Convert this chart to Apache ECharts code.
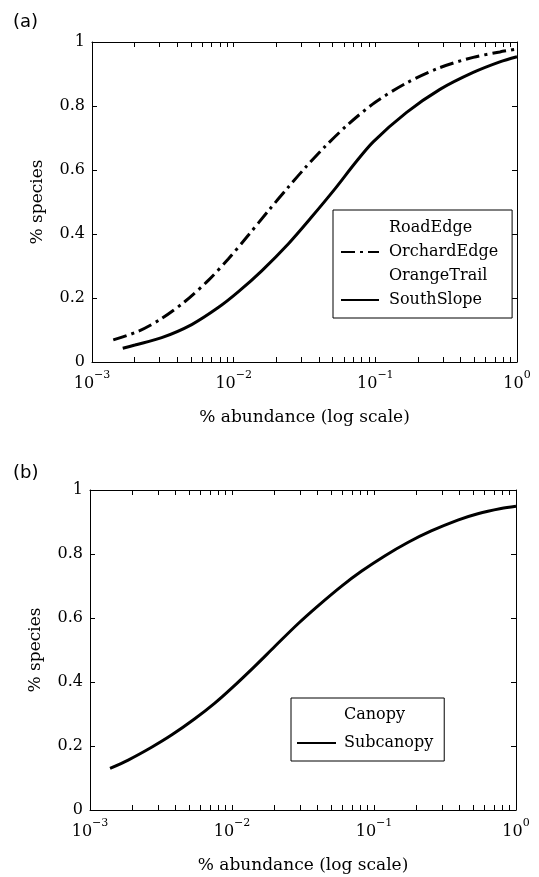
<!DOCTYPE html>
<html><head><meta charset="utf-8">
<script src="https://cdn.jsdelivr.net/npm/echarts@6/dist/echarts.min.js"></script>
<style>html,body{margin:0;padding:0;background:#fff}#c{width:539px;height:877px}</style>
</head><body><div id="c"></div>
<script>
// ---- data ----
// Panel (a)
const southSlopeX = [0.001648, 0.002009, 0.003105, 0.005058, 0.007780, 0.01076, 0.01578, 0.02427, 0.03548, 0.05188, 0.07178, 0.09661, 0.1663, 0.2858, 0.4909, 0.7568, 1.0];
const southSlopeY = [0.043, 0.053, 0.076, 0.117, 0.170, 0.219, 0.285, 0.369, 0.453, 0.541, 0.621, 0.688, 0.780, 0.852, 0.905, 0.938, 0.954];
const orchardEdgeX = [0.001413, 0.002123, 0.003105, 0.004529, 0.006622, 0.009162, 0.01268, 0.01754, 0.02427, 0.03184, 0.04406, 0.06442, 0.09931, 0.1663, 0.2858, 0.4909, 0.7568, 1.0];
const orchardEdgeY = [0.069, 0.096, 0.136, 0.189, 0.255, 0.322, 0.396, 0.472, 0.546, 0.606, 0.673, 0.743, 0.811, 0.872, 0.920, 0.952, 0.969, 0.978];
const roadEdgeX = [];
const roadEdgeY = [];
const orangeTrailX = [];
const orangeTrailY = [];
// Panel (b)
const subcanopyX = [0.001384, 0.001858, 0.002716, 0.003750, 0.005470, 0.007568, 0.009908, 0.01445, 0.02000, 0.02917, 0.04036, 0.05888, 0.08147, 0.1189, 0.1730, 0.2529, 0.3890, 0.5383, 0.7852, 1.0];
const subcanopyY = [0.130, 0.156, 0.196, 0.234, 0.285, 0.334, 0.380, 0.449, 0.511, 0.582, 0.638, 0.699, 0.746, 0.794, 0.836, 0.872, 0.906, 0.926, 0.942, 0.949];
const canopyX = [];
const canopyY = [];
// tick marks on the log axis (decades plus 2..9 multiples)
const xTickValues = [0.001,0.002,0.003,0.004,0.005,0.006,0.007,0.008,0.009,
  0.01,0.02,0.03,0.04,0.05,0.06,0.07,0.08,0.09,
  0.1,0.2,0.3,0.4,0.5,0.6,0.7,0.8,0.9,1];
const xMin = 0.001, xMax = 1;
const yMin = 0, yMax = 1, yStep = 0.2;
const xTitle = '% abundance (log scale)';
const yTitle = '% species';

// ---- styling/helpers ----
const SERIF = 'DejaVu Serif';
const zip = (xs, ys) => xs.map((x, i) => [x, ys[i]]);
const supLabel = v => {
  const e = Math.round(Math.log10(v));
  return '{b|10}{s|' + (e < 0 ? '\u2212' + (-e) : String(e)) + '}';
};
const grids = [
  {left: 92, top: 42, width: 425, height: 320},
  {left: 90, top: 490, width: 426, height: 320}
];
const xAxes = [], yAxes = [];
grids.forEach((g, gi) => {
  xAxes.push({
    type: 'log', logBase: 10, gridIndex: gi, min: xMin, max: xMax, interval: 1, position: 'bottom',
    name: xTitle, nameLocation: 'middle', nameGap: 47,
    nameTextStyle: {fontFamily: SERIF, fontSize: 17, color: '#000'},
    axisLine: {show: true, onZero: false, lineStyle: {color: '#000', width: 1}},
    axisTick: {show: true, inside: true, length: 5, customValues: xTickValues, lineStyle: {color: '#000'}},
    axisLabel: {show: true, margin: 8, formatter: supLabel, rich: {
      b: {fontFamily: SERIF, fontSize: 16, color: '#000', lineHeight: 22, verticalAlign: 'bottom'},
      s: {fontFamily: SERIF, fontSize: 11, color: '#000', lineHeight: 12, verticalAlign: 'top'}
    }},
    splitLine: {show: false}, minorTick: {show: false}
  });
  xAxes.push({
    type: 'log', logBase: 10, gridIndex: gi, min: xMin, max: xMax, interval: 1, position: 'top',
    axisLine: {show: true, onZero: false, lineStyle: {color: '#000', width: 1}},
    axisTick: {show: true, inside: true, length: 5, customValues: xTickValues, lineStyle: {color: '#000'}},
    axisLabel: {show: false}, splitLine: {show: false}
  });
  yAxes.push({
    type: 'value', gridIndex: gi, min: yMin, max: yMax, interval: yStep, position: 'left',
    name: yTitle, nameLocation: 'middle', nameGap: 46,
    nameTextStyle: {fontFamily: SERIF, fontSize: 17, color: '#000'},
    axisLine: {show: true, onZero: false, lineStyle: {color: '#000', width: 1}},
    axisTick: {show: true, inside: true, length: 5, lineStyle: {color: '#000'}},
    axisLabel: {show: true, margin: 7, fontFamily: SERIF, fontSize: 16, color: '#000'},
    splitLine: {show: false}
  });
  yAxes.push({
    type: 'value', gridIndex: gi, min: yMin, max: yMax, interval: yStep, position: 'right',
    axisLine: {show: true, onZero: false, lineStyle: {color: '#000', width: 1}},
    axisTick: {show: true, inside: true, length: 5, lineStyle: {color: '#000'}},
    axisLabel: {show: false}, splitLine: {show: false}
  });
});

const lineSeries = (name, xi, yi, xs, ys, lineStyle) => ({
  name, type: 'line', xAxisIndex: xi, yAxisIndex: yi, data: zip(xs, ys),
  symbol: 'none', smooth: 0.3, lineStyle: Object.assign({color: '#000', width: 3, cap: 'butt'}, lineStyle),
  itemStyle: {color: '#000'}, silent: true, animation: false
});
const hidden = {lineStyle: {opacity: 0}};
const legendText = {fontFamily: SERIF, fontSize: 16, color: '#000', lineHeight: 20};

const option = {
  backgroundColor: '#fff',
  animation: false,
  title: [
    {text: '(a)', left: 8, top: 8, textStyle: {fontFamily: 'DejaVu Sans', fontSize: 18, fontWeight: 'normal', color: '#000'}},
    {text: '(b)', left: 8, top: 459, textStyle: {fontFamily: 'DejaVu Sans', fontSize: 18, fontWeight: 'normal', color: '#000'}}
  ],
  grid: grids,
  xAxis: xAxes,
  yAxis: yAxes,
  legend: [
    {
      orient: 'vertical', left: 333, top: 210, padding: [8, 14, 8, 7],
      borderColor: '#000', borderWidth: 1, backgroundColor: '#fff',
      itemWidth: 38, itemHeight: 14, itemGap: 4, selectedMode: false,
      itemStyle: {opacity: 0},
      textStyle: Object.assign({padding: [0, 0, 0, 5]}, legendText),
      data: [Object.assign({name: 'RoadEdge'}, hidden), 'OrchardEdge', Object.assign({name: 'OrangeTrail'}, hidden), 'SouthSlope']
    },
    {
      orient: 'vertical', left: 291, top: 698, padding: [7, 11, 8, 5],
      borderColor: '#000', borderWidth: 1, backgroundColor: '#fff',
      itemWidth: 39, itemHeight: 14, itemGap: 8, selectedMode: false,
      itemStyle: {opacity: 0},
      textStyle: Object.assign({padding: [0, 0, 0, 3]}, legendText),
      data: [Object.assign({name: 'Canopy'}, hidden), 'Subcanopy']
    }
  ],
  series: [
    lineSeries('RoadEdge', 0, 0, roadEdgeX, roadEdgeY, {width: 1, type: 'dashed'}),
    lineSeries('OrchardEdge', 0, 0, orchardEdgeX, orchardEdgeY, {type: [14, 5, 3, 5]}),
    lineSeries('OrangeTrail', 0, 0, orangeTrailX, orangeTrailY, {width: 1}),
    lineSeries('SouthSlope', 0, 0, southSlopeX, southSlopeY, {}),
    lineSeries('Canopy', 2, 2, canopyX, canopyY, {width: 1}),
    lineSeries('Subcanopy', 2, 2, subcanopyX, subcanopyY, {})
  ]
};
const chart = echarts.init(document.getElementById('c'), null, {renderer: 'canvas'});
chart.setOption(option);
</script>
</body></html>
